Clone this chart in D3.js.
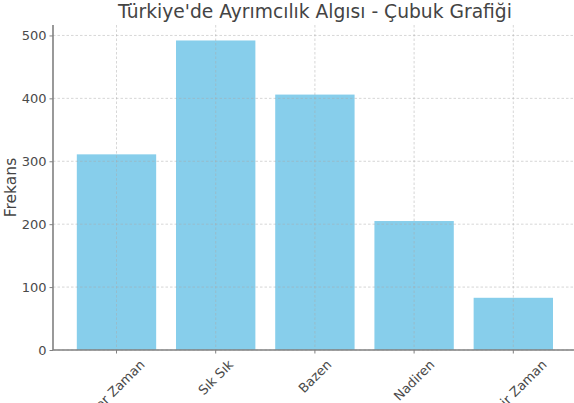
<!DOCTYPE html>
<html>
<head>
<meta charset="utf-8">
<script src="https://cdn.jsdelivr.net/npm/d3@7"></script>
<style>
  html, body { margin: 0; padding: 0; background: #fff; }
  svg { display: block; font-family: "DejaVu Sans", sans-serif; }
</style>
</head>
<body>
<svg id="chart" width="574" height="403"></svg>
<script>
const categories = ["Her Zaman", "Sık Sık", "Bazen", "Nadiren", "Hiçbir Zaman"];
const frequencies = [311, 492, 406, 205, 83];
const yTicks = [0, 100, 200, 300, 400, 500];
const titleText = "Türkiye'de Ayrımcılık Algısı - Çubuk Grafiği";
const yLabel = "Frekans";

(function () {
const svg = d3.select("#chart");
const mLeft = 53, mRight = 576.8, mTop = 25, mBottom = 350;

const x = d3.scaleBand().domain(categories).range([mLeft, mRight])
  .paddingInner(0.2).paddingOuter(0.24);
const y = d3.scaleLinear().domain([0, d3.max(frequencies) * 1.05]).range([mBottom, mTop]);

// bars
svg.append("g").selectAll("rect").data(frequencies).join("rect")
  .attr("x", (d, i) => x(categories[i]))
  .attr("y", d => y(d))
  .attr("width", x.bandwidth())
  .attr("height", d => y(0) - y(d))
  .attr("fill", "#87CEEB");

// grid (drawn over bars, like matplotlib)
const grid = svg.append("g").attr("stroke", "#a8a8a8").attr("stroke-opacity", 0.6)
  .attr("stroke-width", 0.8).attr("stroke-dasharray", "2.5,2");
grid.selectAll("line.h").data(yTicks).join("line").attr("class", "h")
  .attr("x1", mLeft).attr("x2", 574).attr("y1", d => y(d)).attr("y2", d => y(d));
grid.selectAll("line.v").data(categories).join("line").attr("class", "v")
  .attr("x1", d => x(d) + x.bandwidth() / 2).attr("x2", d => x(d) + x.bandwidth() / 2)
  .attr("y1", mTop).attr("y2", mBottom);

// y axis
const yAxis = svg.append("g").attr("transform", `translate(${mLeft},0)`)
  .call(d3.axisLeft(y).tickValues(yTicks).tickSize(3.5).tickPadding(3).tickFormat(d3.format("d")));
yAxis.select(".domain").attr("stroke", "#808080").attr("stroke-width", 1.6)
  .attr("d", `M0,${mBottom}V${mTop}`);
yAxis.selectAll(".tick line").attr("stroke", "#808080").attr("stroke-width", 1);
yAxis.selectAll(".tick text").attr("fill", "#4a4a4a").style("font-size", "13px")
  .style("font-family", "DejaVu Sans");

// x axis
const xAxis = svg.append("g").attr("transform", `translate(0,${mBottom})`)
  .call(d3.axisBottom(x).tickSize(3.5).tickFormat(""));
xAxis.select(".domain").attr("stroke", "#808080").attr("stroke-width", 1.6)
  .attr("d", `M${mLeft},0H${mRight}`);
xAxis.selectAll(".tick line").attr("stroke", "#808080").attr("stroke-width", 1);

// rotated x labels (center aligned bounding box, rotated 45°)
const labG = svg.append("g");
categories.forEach(c => {
  const t = labG.append("text").text(c)
    .attr("fill", "#4a4a4a").style("font-size", "13px")
    .attr("text-anchor", "middle").attr("dominant-baseline", "central");
  const L = t.node().getComputedTextLength();
  const h = 15;
  const half = (L + h) * Math.SQRT1_2 / 2;
  const cx = x(c) + x.bandwidth() / 2;
  const cy = mBottom + 7 + half;
  t.attr("transform", `translate(${cx},${cy}) rotate(-45)`);
});

// y label
svg.append("text").text(yLabel)
  .attr("transform", `translate(16,${(mTop + mBottom) / 2}) rotate(-90)`)
  .attr("text-anchor", "middle").attr("fill", "#444").style("font-size", "15.5px");

// title
svg.append("text").text(titleText)
  .attr("x", (mLeft + mRight) / 2).attr("y", 18)
  .attr("text-anchor", "middle").attr("fill", "#444").style("font-size", "18.7px");
})();
</script>
</body>
</html>
